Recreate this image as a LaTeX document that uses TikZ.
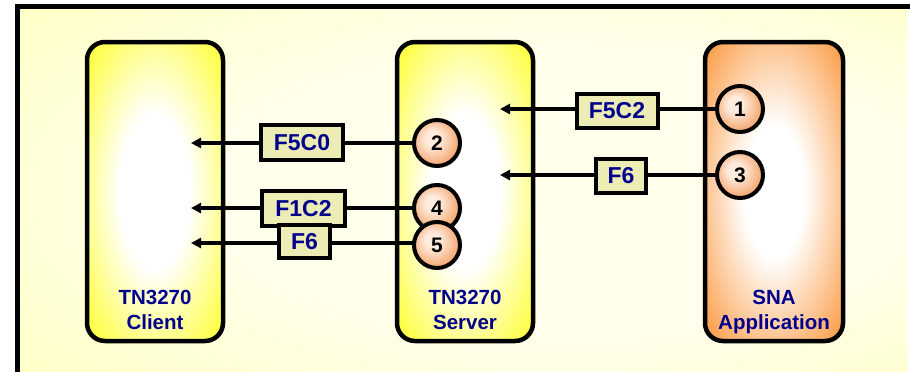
\documentclass[tikz,border=0pt]{standalone}
\usepackage{fontspec}
\setmainfont{Liberation Sans}
\usetikzlibrary{arrows.meta}
\definecolor{navy}{RGB}{0,0,140}
\definecolor{ylw}{RGB}{255,255,20}
\definecolor{tanbox}{RGB}{236,236,180}
\definecolor{orng}{RGB}{250,140,40}
\definecolor{corng}{RGB}{240,140,70}
\definecolor{corngL}{RGB}{255,236,222}
\definecolor{bgY}{RGB}{255,255,170}
\definecolor{bgW}{RGB}{255,255,235}
\pgfdeclareradialshading{glowY}{\pgfpoint{0bp}{0bp}}{color(0bp)=(white); color(13bp)=(white); color(38bp)=(ylw); color(50bp)=(ylw)}
\pgfdeclareradialshading{glowO}{\pgfpoint{0bp}{0bp}}{color(0bp)=(white); color(11bp)=(white); color(38bp)=(orng); color(50bp)=(orng)}
\pgfdeclareradialshading{glowC}{\pgfpoint{-6bp}{6bp}}{color(0bp)=(corngL); color(8bp)=(corngL); color(34bp)=(corng); color(50bp)=(corng)}
\pgfdeclareradialshading{glowBG}{\pgfpoint{10bp}{0bp}}{color(0bp)=(bgW); color(20bp)=(bgW); color(50bp)=(bgY)}
\pgfdeclarelayer{bg}
\pgfdeclarelayer{mid}
\pgfsetlayers{bg,mid,main}
\tikzset{
  bigbox/.style={draw=black, line width=4.5pt, rounded corners=18pt, minimum width=136pt, minimum height=299pt, inner sep=0pt},
  lbl/.style={text=navy, font=\fontsize{20.5}{25}\selectfont\bfseries, align=center, inner sep=0pt, anchor=north},
  msgbox/.style={draw=black, line width=4pt, fill=tanbox, text=navy, font=\fontsize{23}{26}\selectfont\bfseries, inner sep=0pt, minimum height=34pt},
  numc/.style={circle, draw=black, line width=4pt, shade, shading=glowC, minimum size=46pt, inner sep=0pt, font=\fontsize{21}{24}\selectfont\bfseries},
  conn/.style={line width=4pt, -{Triangle[length=10pt,width=10pt]}}
}
\begin{document}
\begin{tikzpicture}[x=1pt,y=-1pt]
\useasboundingbox (0,0) rectangle (910,372);
\begin{pgfonlayer}{bg}
  \shade[shading=glowBG] (17.5,6) rectangle (907,380);
  \draw[line width=5pt, line cap=rect] (17.5,380) -- (17.5,6) -- (907,6);
  \node[bigbox, shade, shading=glowY] (client) at (155,191.5) {};
  \node[bigbox, shade, shading=glowY] (server) at (465,191.5) {};
  \node[bigbox, shade, shading=glowO, minimum width=138pt] (sna) at (774,191.5) {};
\end{pgfonlayer}
\node[lbl] (clientlbl) at (155,290) {TN3270\\Client};
\node[lbl] (serverlbl) at (465,290) {TN3270\\Server};
\node[lbl] (snalbl) at (774,290) {SNA\\Application};
% numbered circles
\node[numc] (c1) at (740,109) {1};
\node[numc] (c3) at (740,175) {3};
\node[numc] (c2) at (437,143) {2};
\node[numc] (c4) at (437,208) {4};
\node[numc] (c5) at (437,245) {5};
% arrow ends
\coordinate (t1) at (500,109);
\coordinate (t3) at (500,175);
\coordinate (t2) at (191,143);
\coordinate (t4) at (191,208);
\coordinate (t5) at (191,243);
\begin{pgfonlayer}{mid}
  \draw[conn] (c1.center) -- (t1);
  \draw[conn] (c3.center) -- (t3);
  \draw[conn] (c2.center) -- (t2);
  \draw[conn] (c4.center) -- (t4);
  \draw[conn] (c5.center |- t5) -- (t5);
\end{pgfonlayer}
% message boxes
\node[msgbox, minimum width=81pt] (m1) at (617,111) {F5C2};
\node[msgbox, minimum width=50pt] (m3) at (621,176) {F6};
\node[msgbox, minimum width=82pt, minimum height=35pt] (m2) at (302,142.5) {F5C0};
\node[msgbox, minimum width=83pt, minimum height=35pt] (m4) at (303.5,208.5) {F1C2};
\node[msgbox, minimum width=51pt, minimum height=33pt] (m5) at (304.5,241.5) {F6};
\end{tikzpicture}
\end{document}
